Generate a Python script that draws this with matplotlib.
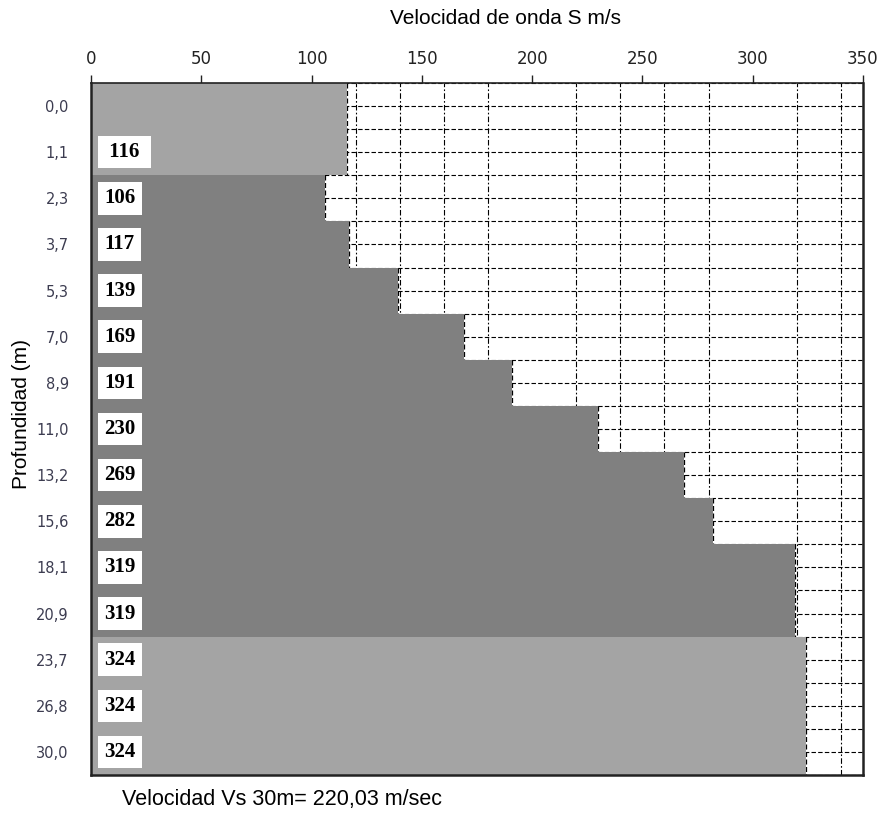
import numpy as np
import matplotlib.pyplot as plt
from matplotlib.ticker import MultipleLocator

# depth labels (m) and shear-wave velocity per layer (m/s)
depth_labels = ['0,0', '1,1', '2,3', '3,7', '5,3', '7,0', '8,9', '11,0',
                '13,2', '15,6', '18,1', '20,9', '23,7', '26,8', '30,0']
vs_layers = [116, 106, 117, 139, 169, 191, 230, 269, 282, 319, 319, 324, 324, 324]
layer_shade = ['claro'] + ['oscuro'] * 10 + ['claro'] * 3
vs30_text = 'Velocidad Vs 30m= 220,03 m/sec'

shade_colors = {'claro': '#a4a4a4', 'oscuro': '#808080'}

fig = plt.figure(figsize=(8.82, 8.14), dpi=100)
ax = fig.add_axes([91 / 882, 1 - 775 / 814, 772 / 882, 692 / 814])

n_rows = len(depth_labels)

for i, v in enumerate(vs_layers):
    row = i + 1
    # first layer also fills the 0,0 row
    top = row - 0.5 if i > 0 else -0.5
    height = row + 0.5 - top
    ax.barh(top, v, height=height, align='edge',
            color=shade_colors[layer_shade[i]], zorder=2)
    ax.vlines(v, top, top + height, colors='black', linestyles=(0, (4, 2)),
              linewidth=0.9, zorder=1.5)

    label = str(v) if i > 0 else ' ' + str(v) + ' '
    ax.text(6, row, label, fontsize=15, fontweight='bold',
            family=['Liberation Serif', 'DejaVu Serif'],
            ha='left', va='center', zorder=4,
            bbox=dict(boxstyle='square,pad=0.3', facecolor='white',
                      edgecolor='none'))

ax.set_xlim(0, 350)
ax.set_ylim(n_rows - 0.5, -0.5)

# top axis
ax.xaxis.tick_top()
ax.set_xticks(np.arange(0, 351, 50))
ax.xaxis.set_minor_locator(MultipleLocator(20))
ax.set_yticks(np.arange(n_rows))
ax.set_yticklabels(depth_labels)
ax.set_yticks(np.arange(-0.5, n_rows, 0.5), minor=True)

ax.tick_params(axis='x', which='major', length=6, width=1, pad=5,
               labelsize=12, colors='#222222')
ax.tick_params(axis='y', which='major', length=0, pad=16,
               labelsize=10.5, labelcolor='#3c3c50')
ax.tick_params(which='minor', length=0)

ax.grid(which='minor', axis='x', color='black', linestyle=(0, (5, 2, 1.5, 2)),
        linewidth=0.8, zorder=1)
ax.grid(which='both', axis='y', color='black', linestyle=(0, (4, 2)),
        linewidth=0.8, zorder=1)
ax.set_axisbelow(True)

for side in ['left', 'right', 'bottom']:
    ax.spines[side].set_linewidth(1.8)
    ax.spines[side].set_color('#222222')
ax.spines['top'].set_linewidth(1.2)
ax.spines['top'].set_color('#222222')

fig.text(505 / 882, 1 - 18 / 814, 'Velocidad de onda S m/s', fontsize=15,
         family=['Liberation Sans', 'DejaVu Sans'],
         ha='center', va='center')
fig.text(22 / 882, 1 - 414 / 814, 'Profundidad (m)', fontsize=15,
         family=['Liberation Sans', 'DejaVu Sans'],
         rotation=90, ha='center', va='center')
fig.text(122 / 882, 1 - 800 / 814, vs30_text, fontsize=15.5,
         family=['Liberation Sans', 'DejaVu Sans'],
         ha='left', va='center')

fig.savefig('out.png', dpi=100)
